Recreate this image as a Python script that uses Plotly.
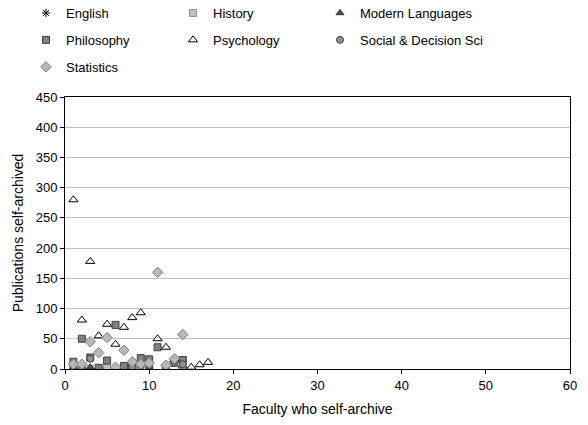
import plotly.graph_objects as go

english_x = [1, 2, 3, 4, 5, 6, 7, 8, 10]
english_y = [1, 1, 1, 1, 1, 1, 1, 1, 2]

history_x = [1, 2, 5, 8, 12]
history_y = [3, 1, 2, 4, 1]

modlang_x = [1, 3, 6, 10]
modlang_y = [2, 3, 1, 2]

philosophy_x = [1, 2, 3, 4, 5, 6, 7, 8, 9, 10, 11, 12, 13, 14]
philosophy_y = [12, 50, 19, 2, 14, 73, 5, 7, 18, 16, 36, 2, 10, 15]

psychology_x = [1, 2, 3, 4, 5, 6, 7, 8, 9, 11, 12, 13, 14, 15, 16, 17]
psychology_y = [280, 81, 178, 55, 74, 41, 69, 85, 93, 50, 36, 16, 5, 3, 7, 11]

social_x = [1, 2, 3, 8, 9, 10, 12, 13, 14]
social_y = [5, 3, 17, 3, 5, 6, 5, 13, 8]

statistics_x = [1, 2, 3, 4, 5, 6, 7, 8, 9, 10, 11, 12, 13, 14]
statistics_y = [8, 8, 45, 27, 52, 3, 31, 12, 8, 10, 160, 6, 17, 57]

x_title = "Faculty who self-archive"
y_title = "Publications self-archived"

FONT = "Liberation Sans, Arial, sans-serif"
W, H = 588, 425
ML, MR, MT, MB = 65, 18, 97, 56
PW, PH = W - ML - MR, H - MT - MB

fig = go.Figure()

def add(name, xs, ys, symbol, fill, line, legend, size=7, lw=1):
    fig.add_trace(go.Scatter(
        x=xs, y=ys, mode="markers", name=name, legend=legend, legendgroup=name,
        marker=dict(symbol=symbol, color=fill, size=size,
                    line=dict(color=line, width=lw)),
    ))

add("English", english_x, english_y, "asterisk-open", "#000000", "#000000", "legend", 7, 1)
add("History", history_x, history_y, "square", "#C0C0C0", "#909090", "legend2", 7)
add("Modern Languages", modlang_x, modlang_y, "triangle-up", "#505050", "#303030", "legend3", 7)
add("Philosophy", philosophy_x, philosophy_y, "square", "#808080", "#404040", "legend", 7)
add("Psychology", psychology_x, psychology_y, "triangle-up", "#FFFFFF", "#000000", "legend2", 8)
add("Social & Decision Sci", social_x, social_y, "circle", "#909090", "#404040", "legend3", 7)
add("Statistics", statistics_x, statistics_y, "diamond", "#B8B8B8", "#808080", "legend", 8)

def leg(left_px, top_px=-2):
    return dict(orientation="v", x=(left_px - ML) / PW, y=1 + (MT - top_px) / PH,
                xanchor="left", yanchor="top", xref="paper", yref="paper", itemwidth=30,
                font=dict(size=13, family=FONT), tracegroupgap=7, bgcolor="rgba(0,0,0,0)")

fig.update_layout(
    width=W, height=H,
    margin=dict(l=ML, r=MR, t=MT, b=MB, autoexpand=False),
    paper_bgcolor="white", plot_bgcolor="white",
    font=dict(family=FONT, size=13, color="#000000"),
    legend=leg(26), legend2=leg(173), legend3=leg(320),
    xaxis=dict(range=[0, 60], dtick=10, showgrid=False, zeroline=False,
               showline=True, linecolor="#000000", linewidth=1, mirror=True,
               ticks="outside", ticklen=4, tickcolor="#000000",
               tickfont=dict(size=13),
               title=dict(text=x_title, font=dict(size=14), standoff=12)),
    yaxis=dict(range=[0, 450], dtick=50, showgrid=True, gridcolor="#C0C0C0",
               zeroline=False, showline=True, linecolor="#000000", linewidth=1, mirror=True,
               ticks="outside", ticklen=4, tickcolor="#000000",
               tickfont=dict(size=13),
               title=dict(text=y_title, font=dict(size=14), standoff=8)),
)

fig.write_html("out.html", config={"displayModeBar": False},
               post_script="document.body.style.margin='0';")
